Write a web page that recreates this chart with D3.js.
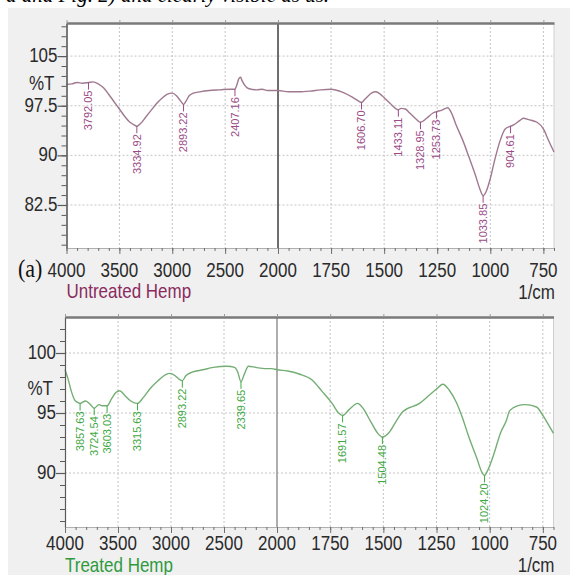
<!DOCTYPE html>
<html>
<head>
<meta charset="utf-8">
<script src="https://cdn.jsdelivr.net/npm/d3@7"></script>
<style>
  body { margin: 0; background: #fff; }
  svg { display: block; }
</style>
</head>
<body>
<div id="chart"></div>
<script>
// x axis (wavenumber, split scale at 2000)
const xTicks = [4000, 3500, 3000, 2500, 2000, 1750, 1500, 1250, 1000, 750];

// untreated hemp spectrum [1/cm] and %T
const untreatedWn = [4000, 3950, 3900, 3850, 3792.05, 3750, 3700, 3650, 3600, 3550, 3500, 3450, 3400, 3360, 3334.92, 3300, 3250, 3200, 3150, 3100, 3050, 3000, 2960, 2920, 2893.22, 2870, 2840, 2800, 2740, 2650, 2550, 2450, 2407.16, 2390, 2370, 2354, 2340, 2310, 2280, 2200, 2150, 2100, 2000,
  1950, 1900, 1850, 1800, 1750, 1700, 1650, 1620, 1606.70, 1590, 1560, 1540, 1520, 1500, 1470, 1433.11, 1420, 1400, 1380, 1350, 1328.95, 1300, 1270, 1253.73, 1230, 1201, 1180, 1160, 1130, 1100, 1070, 1050, 1033.85, 1020, 1000, 980, 953, 930, 904.61, 890, 860, 843, 820, 780, 750, 725, 700];
const untreatedT = [100.7, 100.8, 101.0, 100.9, 101.0, 101.1, 100.8, 100.2, 99.2, 98.1, 97.0, 95.9, 95.0, 94.6, 94.4, 94.8, 95.8, 96.8, 97.8, 98.6, 99.2, 99.4, 99.0, 98.2, 97.7, 98.2, 99.0, 99.4, 99.6, 99.8, 99.9, 100.0, 100.0, 100.6, 101.6, 101.8, 101.3, 100.5, 100.1, 99.9, 100.0, 99.8, 99.8,
  99.6, 99.6, 99.7, 99.9, 100.0, 99.6, 98.8, 98.2, 98.0, 98.5, 99.4, 99.6, 99.3, 98.7, 97.8, 96.9, 97.1, 97.0, 96.4, 95.5, 95.0, 95.6, 96.4, 96.6, 96.8, 97.2, 96.2, 94.5, 92.3, 89.7, 87.0, 85.0, 83.9, 84.5, 86.5, 89.2, 92.3, 94.0, 94.4, 94.6, 95.3, 95.6, 95.4, 95.0, 94.0, 92.2, 90.5];
const untreatedPeaks = [3792.05, 3334.92, 2893.22, 2407.16, 1606.70, 1433.11, 1328.95, 1253.73, 1033.85, 904.61];
const untreatedYTicks = [82.5, 90, 97.5, 105];

// treated hemp spectrum
const treatedWn = [4000, 3970, 3940, 3910, 3885, 3857.63, 3806, 3760, 3724.54, 3680, 3650, 3603.03, 3560, 3520, 3483, 3440, 3380, 3315.63, 3260, 3200, 3120, 3050, 3010, 2960, 2920, 2893.22, 2860, 2800, 2700, 2600, 2470, 2400, 2370, 2339.65, 2310, 2270, 2200, 2114, 2050, 2000,
  1950, 1896, 1835, 1788, 1741, 1710, 1691.57, 1660, 1621, 1600, 1560, 1530, 1504.48, 1472, 1440, 1409, 1330, 1283, 1250, 1220, 1190, 1157, 1126, 1102, 1060, 1035, 1024.20, 1010, 980, 950, 921, 906, 870, 835, 780, 750, 733, 700];
const treatedT = [98.6, 97.8, 96.8, 96.1, 95.9, 95.8, 96.0, 95.7, 95.4, 95.7, 95.6, 95.6, 96.2, 96.7, 96.85, 96.5, 96.0, 95.8, 96.3, 97.0, 97.7, 98.2, 98.3, 98.1, 97.8, 97.7, 98.1, 98.4, 98.6, 98.8, 98.9, 98.8, 98.4, 97.6, 98.2, 98.9, 98.8, 98.7, 98.7, 98.6,
  98.5, 98.25, 97.75, 96.8, 95.8, 95.0, 94.8, 95.3, 95.8, 95.5, 94.3, 93.4, 93.0, 93.4, 94.3, 95.1, 95.8, 96.5, 97.0, 97.4, 96.9, 95.9, 94.5, 93.2, 91.2, 90.0, 89.8, 90.2, 91.6, 93.3, 94.4, 95.2, 95.6, 95.7, 95.5, 94.8, 94.3, 93.3];
const treatedPeaks = [3857.63, 3724.54, 3603.03, 3315.63, 2893.22, 2339.65, 1691.57, 1504.48, 1024.20];
const treatedYTicks = [90, 95, 100];

const W = 570, H = 575;
const SY = 1.18; // glyphs in the source are drawn a little tall

const svg = d3.select("#chart").append("svg")
  .attr("width", W).attr("height", H)
  .style("font-family", "Arial, 'Liberation Sans', sans-serif");

// fragment of the document text above the figure, mostly cut off
svg.append("text")
  .attr("x", 6).attr("y", 2)
  .style("font-family", "'Liberation Serif', 'Times New Roman', serif")
  .style("font-style", "italic").style("font-size", "21px")
  .text("a and Fig. 2) and clearly visible as us.");

svg.append("rect").attr("x", 8).attr("y", 8).attr("width", W - 8).attr("height", H - 8).attr("fill", "#f0f0f0");

function label(g, x, y, str, anchor, size, color) {
  return g.append("text")
    .attr("transform", `translate(${x},${y}) scale(1,${SY})`)
    .attr("text-anchor", anchor)
    .style("font-size", size + "px")
    .attr("fill", color || "#2b2b2b")
    .text(str);
}

function valueAt(wns, ts, w) {
  const i = wns.findIndex(d => d <= w);
  if (i <= 0) return ts[Math.max(i, 0)];
  const t = (wns[i - 1] - w) / (wns[i - 1] - wns[i]);
  return ts[i - 1] + t * (ts[i] - ts[i - 1]);
}

function drawPanel(cfg) {
  const g = svg.append("g");
  const x = d3.scaleLinear().domain([4000, 2000, 700]).range([cfg.left, cfg.split, cfg.right]);
  const y = d3.scaleLinear().domain(cfg.yDomain).range([cfg.bottom, cfg.top]);

  g.append("rect")
    .attr("x", cfg.left).attr("y", cfg.top)
    .attr("width", cfg.right - cfg.left).attr("height", cfg.bottom - cfg.top)
    .attr("fill", "#fff");

  // dotted grid
  g.selectAll(".hgrid").data(cfg.yTicks).enter().append("line")
    .attr("x1", cfg.left).attr("x2", cfg.right)
    .attr("y1", d => y(d)).attr("y2", d => y(d))
    .attr("stroke", "#c4c4c4").attr("stroke-dasharray", "2,2");
  g.selectAll(".vgrid").data(xTicks.filter(d => d !== 2000 && d !== 4000)).enter().append("line")
    .attr("x1", d => x(d)).attr("x2", d => x(d))
    .attr("y1", cfg.top).attr("y2", cfg.bottom)
    .attr("stroke", "#c4c4c4").attr("stroke-dasharray", "2,2");

  // scale break at 2000
  g.append("line")
    .attr("x1", x(2000)).attr("x2", x(2000))
    .attr("y1", cfg.top).attr("y2", cfg.bottom)
    .attr("stroke", cfg.splitColor).attr("stroke-width", 1.6);

  // right border
  g.append("line").attr("x1", cfg.right).attr("x2", cfg.right)
    .attr("y1", cfg.top).attr("y2", cfg.bottom).attr("stroke", "#d0d0d0");

  // spectrum
  const pts = cfg.wn.map((w, i) => [w, cfg.t[i]]);
  g.append("path").datum(pts)
    .attr("fill", "none")
    .attr("stroke", cfg.lineColor).attr("stroke-width", 1.4)
    .attr("d", d3.line().x(d => x(d[0])).y(d => y(d[1])).curve(d3.curveMonotoneX));

  // peak labels
  cfg.peaks.forEach(p => {
    const px = x(p), py = y(valueAt(cfg.wn, cfg.t, p));
    g.append("line").attr("x1", px).attr("x2", px).attr("y1", py).attr("y2", py + 7)
      .attr("stroke", cfg.peakColor).attr("stroke-width", 1);
    g.append("text")
      .attr("transform", `translate(${px},${py + 8}) rotate(-90)`)
      .attr("text-anchor", "end").attr("dy", "0.35em")
      .style("font-size", "11px").attr("fill", cfg.peakColor)
      .text(p.toFixed(2));
  });

  // left axis
  const minorY = d3.range(cfg.yDomain[0] + cfg.minorOffset, cfg.yDomain[1], cfg.minorStep);
  g.append("g").attr("transform", `translate(${cfg.left},0)`)
    .call(d3.axisLeft(y).tickValues(minorY).tickSize(5).tickSizeOuter(0).tickFormat(""))
    .call(a => a.selectAll("line,path").attr("stroke", "#5a5a5a"));
  g.append("g").attr("transform", `translate(${cfg.left},0)`)
    .call(d3.axisLeft(y).tickValues(cfg.yTicks).tickSize(9).tickSizeOuter(0).tickFormat(""))
    .call(a => a.selectAll("line,path").attr("stroke", "#5a5a5a").attr("stroke-width", 1.2));
  cfg.yTicks.forEach(v => label(g, cfg.left - 9, y(v) + 6, String(v), "end", 17));
  label(g, cfg.left - 12, cfg.pctY, "%T", "end", 17);

  // bottom axis
  const minorX = d3.range(4000, 2000, -100).concat(d3.range(2000, 699, -50));
  g.append("g").attr("transform", `translate(0,${cfg.bottom})`)
    .call(d3.axisBottom(x).tickValues(minorX).tickSize(3).tickSizeOuter(0).tickFormat(""))
    .call(a => a.select("path").attr("stroke", "#b0b0b0"))
    .call(a => a.selectAll("line").attr("stroke", "#707070"));
  g.append("g").attr("transform", `translate(0,${cfg.bottom})`)
    .call(d3.axisBottom(x).tickValues(xTicks).tickSize(6).tickSizeOuter(0).tickFormat(""))
    .call(a => a.select("path").remove())
    .call(a => a.selectAll("line").attr("stroke", "#707070"));
  xTicks.forEach(v => label(g, x(v), cfg.bottom + cfg.xLabelOffset, String(v), "middle", 17));

  // top border with small ticks
  g.append("g").attr("transform", `translate(0,${cfg.top})`)
    .call(d3.axisTop(x).tickValues(xTicks).tickSize(3).tickSizeOuter(0).tickFormat(""))
    .call(a => a.select("path").attr("stroke", "#7a7a7a").attr("stroke-width", 2.5))
    .call(a => a.selectAll("line").attr("stroke", "#9a9a9a"));

  label(g, cfg.left, cfg.nameY, cfg.name, "start", 17, cfg.nameColor);
  label(g, cfg.right + 1, cfg.unitY, "1/cm", "end", 17);
  return g;
}

const upperPanel = drawPanel({
  left: 66.5, split: 278, right: 554, top: 23, bottom: 248,
  yDomain: [76, 110], yTicks: untreatedYTicks, minorStep: 1.5, minorOffset: 0.5,
  wn: untreatedWn, t: untreatedT, peaks: untreatedPeaks,
  lineColor: "#a07890", peakColor: "#9a4c86", splitColor: "#4a4a4a",
  name: "Untreated Hemp", nameColor: "#8a2a5e",
  xLabelOffset: 29, nameY: 298, unitY: 299, pctY: 90
});
label(upperPanel, 18, 277, "(a)", "start", 22, "#111")
  .style("font-family", "'Liberation Serif', 'Times New Roman', serif");

drawPanel({
  left: 65, split: 277, right: 553.5, top: 317, bottom: 527,
  yDomain: [85.5, 103], yTicks: treatedYTicks, minorStep: 1, minorOffset: 0.5,
  wn: treatedWn, t: treatedT, peaks: treatedPeaks,
  lineColor: "#74ae74", peakColor: "#3fa845", splitColor: "#9a9a9a",
  name: "Treated Hemp", nameColor: "#2f9a3c",
  xLabelOffset: 23, nameY: 572, unitY: 572, pctY: 395
});
</script>
</body>
</html>
